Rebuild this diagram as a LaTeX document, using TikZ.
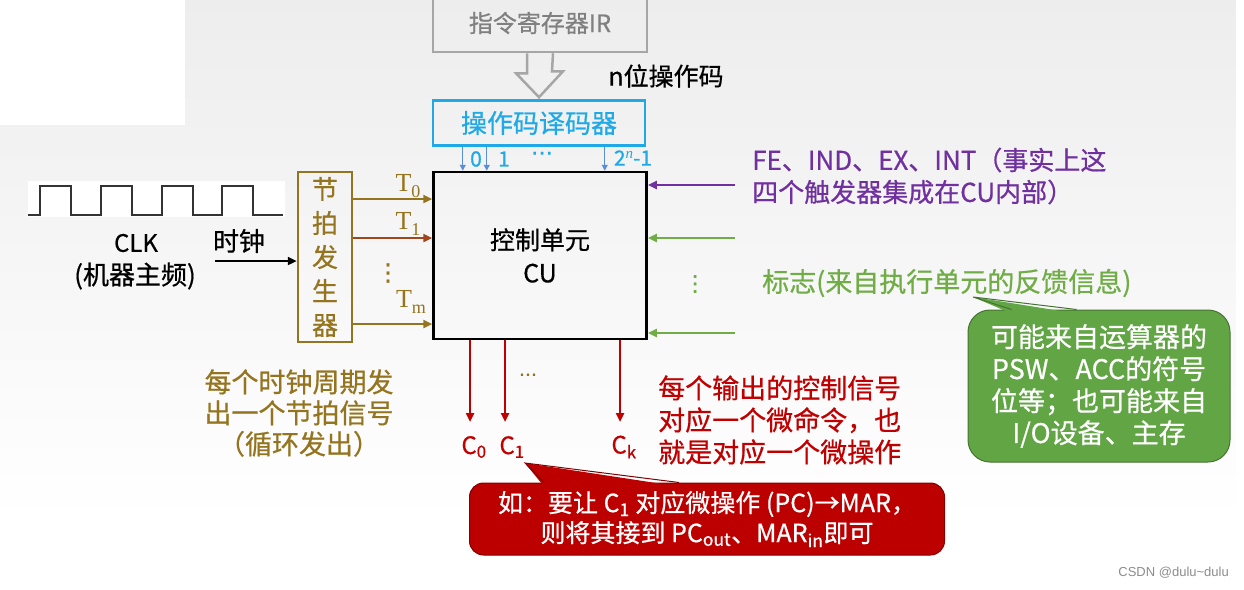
\documentclass[tikz,border=0pt]{standalone}
\usepackage{fontspec}
\setmainfont{Noto Sans CJK SC}[FakeBold=0.6]
\newfontfamily\wmfont{Liberation Sans}
\newfontfamily\tfont{Liberation Serif}
\newfontfamily\symfont{DejaVu Sans}[FakeBold=1]
\usetikzlibrary{arrows.meta,calc}

\definecolor{irgray}{HTML}{A6A6A6}
\definecolor{deccyan}{HTML}{1FA9E6}
\definecolor{decblue}{HTML}{5B8ED6}
\definecolor{tgbrown}{HTML}{94741E}
\definecolor{tred}{HTML}{A0461E}
\definecolor{fepurple}{HTML}{7030A0}
\definecolor{flaggreen}{HTML}{70AD47}
\definecolor{cred}{HTML}{C00000}
\definecolor{boxred}{HTML}{BC0000}
\definecolor{boxgreen}{HTML}{62A545}

\tikzset{
  box/.style={draw, line width=2.5pt, inner sep=0pt, align=center},
  sig/.style={line width=2.5pt, -{Triangle[length=9pt,width=8pt]}},
  txt/.style={inner sep=0pt, align=center, font=\fontsize{26}{32}\selectfont},
  bubble/.style={rounded corners=14pt, inner sep=0pt, align=center, text=white, line width=1pt},
}
\newcommand{\tsub}[2]{#1\raisebox{-6pt}{\fontsize{18}{18}\selectfont #2}}

\begin{document}
\begin{tikzpicture}[x=1pt, y=-1pt]
\useasboundingbox (0,0) rectangle (1244,589);
% Fond
\shade[top color=black!7, bottom color=white] (0,0) rectangle (1236,520);
\fill[white] (0,520) rectangle (1244,589);
\fill[white] (1236,0) rectangle (1244,589);
\fill[white] (0,0) rectangle (185,125);
% Blocs
\node[box, draw=irgray, text=black!50, minimum width=214pt, minimum height=58pt, font=\fontsize{24}{28}\selectfont] (ir) at (540,23) {指令寄存器IR};
\node[box, draw=deccyan, text=deccyan, minimum width=212pt, minimum height=45pt, font=\fontsize{26}{30}\selectfont] (dec) at (539,123) {操作码译码器};
\node[box, minimum width=213pt, minimum height=167pt, font=\fontsize{25}{33}\selectfont] (cu) at (540,255.5) {控制单元\\CU};
\node[box, draw=tgbrown, text=tgbrown, minimum width=54pt, minimum height=170pt, font=\fontsize{26}{34}\selectfont] (tg) at (325,257) {节\\拍\\发\\生\\器};
\node[txt, font=\fontsize{25}{30}\selectfont] (opbits) at (666,76) {n位操作码};
\draw[irgray, line width=2.5pt] ([xshift=-13pt]ir.south) -- ++(0,20) -- ++(-11,0) -- ([yshift=2pt]dec.north) -- ++(24,-26) -- ++(-11,0) -- ([xshift=13pt]ir.south);
% Sorties du decodeur
\foreach \dx in {31,55,173}
  \draw[decblue, line width=1.2pt, -{Triangle[length=6pt,width=6pt]}] ($(dec.south west)+(\dx,0)$) -- ($(dec.south west |- cu.north)+(\dx,0)$);
\node[txt, text=deccyan, font=\fontsize{21}{24}\selectfont] (d0) at (476,159) {0};
\node[txt, text=deccyan, font=\fontsize{21}{24}\selectfont] (d1) at (504,159) {1};
\node[txt, text=deccyan, font=\symfont\fontsize{22}{24}\selectfont] (ddots) at (542,156) {⋯};
\node[txt, text=deccyan, font=\fontsize{21}{24}\selectfont] (dn) at (633,158) {2\raisebox{7pt}{\tfont\itshape\fontsize{15}{15}\selectfont n}-1};
% Horloge
\fill[white] (28,181) rectangle (285,217);
\draw[line width=2pt, black!80] (28,215) \foreach \x in {40,101,162,222} { -- (\x,215) -- (\x,186) -- (\x+31,186) -- (\x+31,215)} -- (283,215);
\node[txt, font=\fontsize{24}{30}\selectfont] (clk) at (136,243) {CLK};
\node[txt] (clkfreq) at (135,276) {(机器主频)};
\node[txt] (clklabel) at (239,241) {时钟};
\coordinate (clkin) at (215,261);
\draw[sig, black] (clkin) -- (tg.west |- clkin);
\node[txt, text=tgbrown, font=\fontsize{27}{31}\selectfont] (tgnote) at (299,413) {每个时钟周期发\\出一个节拍信号\\（循环发出）};
% Signaux de rythme
\foreach \ty/\tc in {199/tgbrown, 238/tred, 324/tgbrown}
  \draw[sig, \tc] (tg.east |- 0,\ty) -- (cu.west |- 0,\ty);
\node[text=tgbrown, inner sep=0pt, font=\tfont\fontsize{26}{28}\selectfont] (t0) at (408,186) {\tsub{T}{0}};
\node[text=tgbrown, inner sep=0pt, font=\tfont\fontsize{26}{28}\selectfont] (t1) at (408,224) {\tsub{T}{1}};
\node[text=tgbrown, inner sep=0pt, font=\symfont\fontsize{24}{26}\selectfont] (tdots) at (388,273) {⋮};
\node[text=tgbrown, inner sep=0pt, font=\tfont\fontsize{26}{28}\selectfont] (tm) at (411,302) {\tsub{T}{m}};
% Entrees a droite
\coordinate (fein) at (735,185);
\coordinate (flag1) at (735,238);
\coordinate (flag2) at (735,333);
\draw[sig, fepurple] (fein) -- (cu.east |- fein);
\draw[sig, flaggreen] (flag1) -- (cu.east |- flag1);
\draw[sig, flaggreen] (flag2) -- (cu.east |- flag2);
\node[text=flaggreen, inner sep=0pt, font=\symfont\fontsize{22}{24}\selectfont] (fdots) at (695,284) {⋮};
\node[txt, anchor=west, align=left, text=fepurple] (fenote) at (752,176) {FE、IND、EX、INT（事实上这\\四个触发器集成在CU内部）};
\node[txt, anchor=west, text=flaggreen, font=\fontsize{27}{32}\selectfont] (flagnote) at (762,283) {标志(来自执行单元的反馈信息)};
% Signaux de commande
\coordinate (c0end) at (470,422);
\coordinate (c1end) at (505,422);
\coordinate (ckend) at (620,422);
\draw[sig, cred] (cu.south -| c0end) -- (c0end);
\draw[sig, cred] (cu.south -| c1end) -- (c1end);
\draw[sig, cred] (cu.south -| ckend) -- (ckend);
\node[text=tgbrown, inner sep=0pt, font=\symfont\fontsize{18}{20}\selectfont] (cdots) at (528,377) {⋯};
\node[txt, text=cred, font=\fontsize{24}{28}\selectfont] (c0) at (474,447) {C\textsubscript{0}};
\node[txt, text=cred, font=\fontsize{24}{28}\selectfont] (c1) at (512,447) {C\textsubscript{1}};
\node[txt, text=cred, font=\fontsize{24}{28}\selectfont] (ck) at (624,447) {C\textsubscript{k}};
\node[txt, anchor=west, align=left, text=cred, font=\fontsize{27}{32}\selectfont] (cnote) at (658,420) {每个输出的控制信号\\对应一个微命令，也\\就是对应一个微操作};
% Bulles
\node[bubble, fill=boxred, draw=boxred!70!black, minimum width=475pt, minimum height=72pt, font=\fontsize{25}{30}\selectfont] (egbox) at (707,519) {如：要让 C\textsubscript{1} 对应微操作 (PC)→MAR，\\则将其接到 PC\textsubscript{out}、MAR\textsubscript{in}即可};
\coordinate (egtip) at (525,463);
\fill[boxred] ($(egbox.north west)+(75,4)$) -- (egtip) -- ($(egbox.north west)+(210,4)$) -- cycle;
\draw[boxred!70!black, line width=1pt] ($(egbox.north west)+(75,0)$) -- (egtip) -- ($(egbox.north west)+(210,0)$);
\node[bubble, fill=boxgreen, draw=boxgreen!70!black, rounded corners=22pt, minimum width=262pt, minimum height=152pt, font=\fontsize{27}{32}\selectfont] (srcbox) at (1099,386) {可能来自运算器的\\PSW、ACC的符号\\位等；也可能来自\\I/O设备、主存};
\coordinate (srctip) at (973,297);
\fill[boxgreen] ($(srcbox.north west)+(44,4)$) -- (srctip) -- ($(srcbox.north west)+(109,4)$) -- cycle;
\draw[boxgreen!70!black, line width=1pt] ($(srcbox.north west)+(44,0)$) -- (srctip) -- ($(srcbox.north west)+(109,0)$);
\node[anchor=east, inner sep=0pt, text=black!45, font=\wmfont\fontsize{13}{15}\selectfont] (wm) at (1229,573) {CSDN @dulu\textasciitilde dulu};
\end{tikzpicture}
\end{document}
